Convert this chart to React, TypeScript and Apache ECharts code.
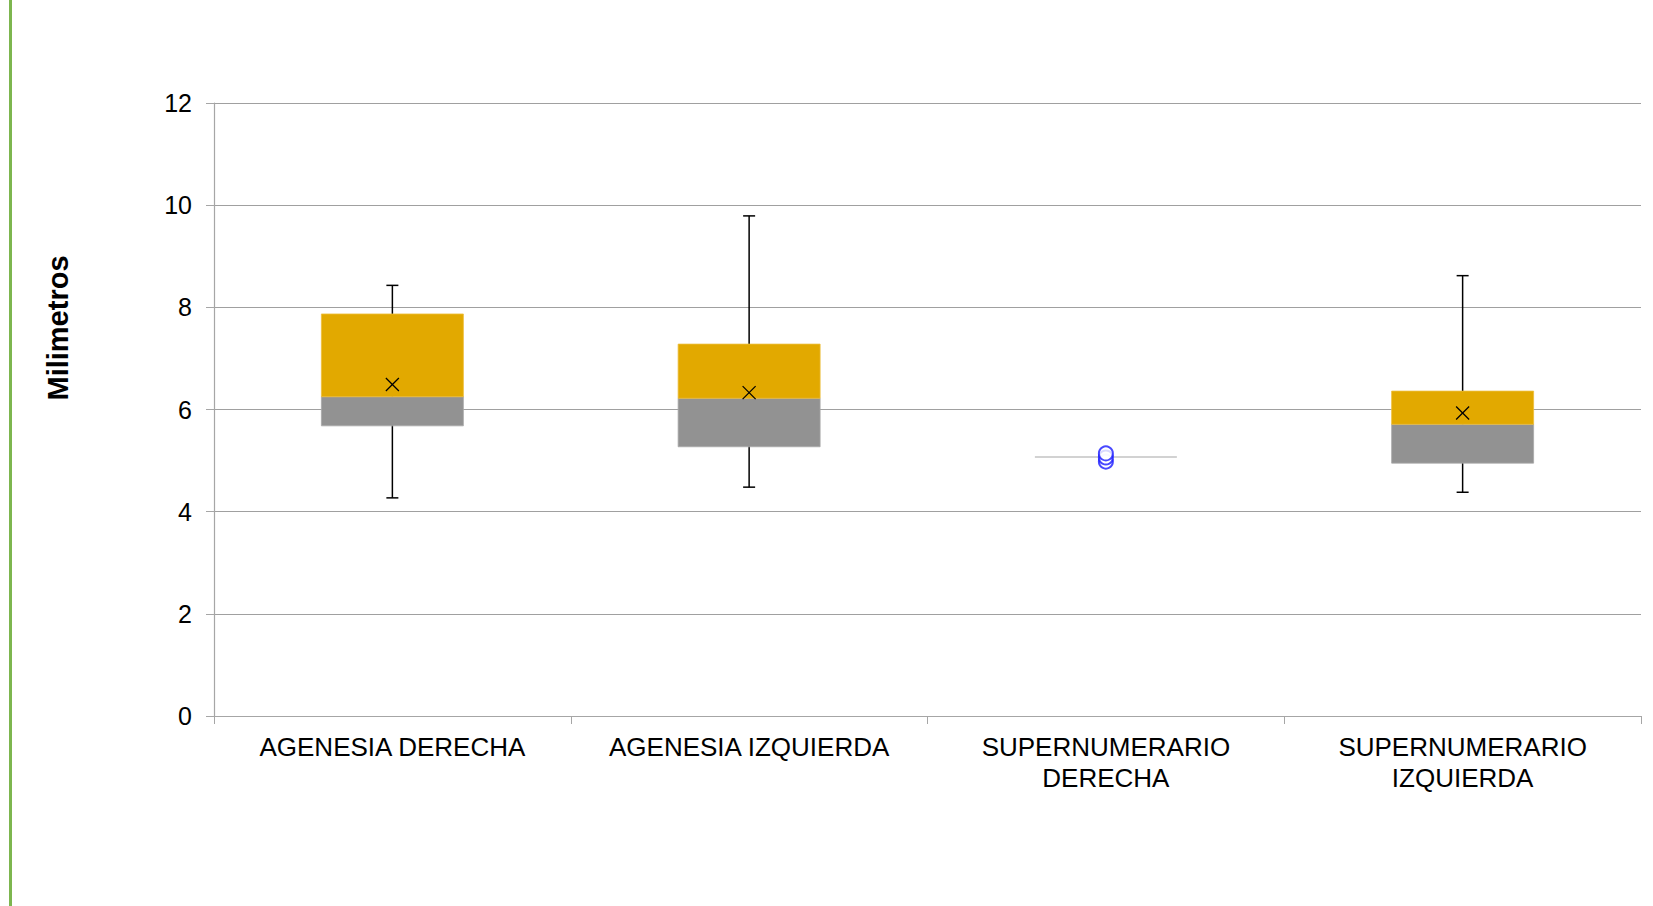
import React, { useEffect, useRef } from "react";
import * as echarts from "echarts";

const categories = [
  "AGENESIA DERECHA",
  "AGENESIA IZQUIERDA",
  "SUPERNUMERARIO DERECHA",
  "SUPERNUMERARIO IZQUIERDA",
];
const whiskerLow = [4.27, 4.48, 5.07, 4.38];
const quartile1 = [5.68, 5.27, 5.07, 4.95];
const medians = [6.25, 6.22, 5.07, 5.71];
const quartile3 = [7.87, 7.28, 5.07, 6.36];
const whiskerHigh = [8.43, 9.79, 5.07, 8.62];
const means: (number | null)[] = [6.49, 6.33, null, 5.93];
const outlierCategory = [2, 2, 2];
const outlierValues = [4.98, 5.06, 5.14];
const yTicks = [0, 2, 4, 6, 8, 10, 12];

const FONT = "'Liberation Sans', Arial, sans-serif";

export default function App() {
  const ref = useRef<HTMLDivElement>(null);

  useEffect(() => {
    if (!ref.current) return;
    const chart = echarts.init(ref.current, null, { renderer: "svg" });

    const boxData = categories.map((_, i) => [
      i,
      whiskerLow[i],
      quartile1[i],
      medians[i],
      quartile3[i],
      whiskerHigh[i],
      means[i] == null ? NaN : means[i],
    ]);

    const renderItem = (params: any, api: any) => {
      const i = api.value(0);
      const low = api.value(1);
      const q1 = api.value(2);
      const med = api.value(3);
      const q3 = api.value(4);
      const high = api.value(5);
      const mean = api.value(6);
      const band = api.size([1, 0])[0];
      const half = (band * 0.398) / 2;
      const pLow = api.coord([i, low]);
      const pQ1 = api.coord([i, q1]);
      const pMed = api.coord([i, med]);
      const pQ3 = api.coord([i, q3]);
      const pHigh = api.coord([i, high]);
      const cx = pLow[0];
      const children: any[] = [];
      const lineStyle = { stroke: "#000", lineWidth: 1.5 };
      if (high > low) {
        children.push({
          type: "line",
          shape: { x1: cx, y1: pLow[1], x2: cx, y2: pHigh[1] },
          style: lineStyle,
        });
        children.push({
          type: "line",
          shape: { x1: cx - 6, y1: pLow[1], x2: cx + 6, y2: pLow[1] },
          style: lineStyle,
        });
        children.push({
          type: "line",
          shape: { x1: cx - 6, y1: pHigh[1], x2: cx + 6, y2: pHigh[1] },
          style: lineStyle,
        });
      }
      if (q3 > q1) {
        children.push({
          type: "rect",
          shape: { x: cx - half, y: pMed[1], width: half * 2, height: pQ1[1] - pMed[1] },
          style: { fill: "#929292", stroke: "#a8a8a8", lineWidth: 0.8 },
        });
        children.push({
          type: "rect",
          shape: { x: cx - half, y: pQ3[1], width: half * 2, height: pMed[1] - pQ3[1] },
          style: { fill: "#E2A900", stroke: "#EDBE3A", lineWidth: 0.8 },
        });
      } else {
        children.push({
          type: "line",
          shape: { x1: cx - half, y1: pMed[1], x2: cx + half, y2: pMed[1] },
          style: { stroke: "#a6a6a6", lineWidth: 1.2 },
        });
      }
      if (!isNaN(mean)) {
        const pm = api.coord([i, mean]);
        const s = 6.5;
        children.push({
          type: "line",
          shape: { x1: pm[0] - s, y1: pm[1] - s, x2: pm[0] + s, y2: pm[1] + s },
          style: { stroke: "#000", lineWidth: 1.3 },
        });
        children.push({
          type: "line",
          shape: { x1: pm[0] - s, y1: pm[1] + s, x2: pm[0] + s, y2: pm[1] - s },
          style: { stroke: "#000", lineWidth: 1.3 },
        });
      }
      return { type: "group", children };
    };

    chart.setOption({
      animation: false,
      backgroundColor: "#fff",
      textStyle: { fontFamily: FONT },
      grid: { left: 214, right: 12, top: 103, bottom: 190, containLabel: false },
      xAxis: {
        type: "category",
        data: categories,
        boundaryGap: true,
        axisLine: { show: true, lineStyle: { color: "#a6a6a6", width: 1.2 } },
        axisTick: { show: true, length: 8, lineStyle: { color: "#a6a6a6" } },
        axisLabel: {
          interval: 0,
          color: "#000",
          fontSize: 26,
          lineHeight: 31,
          margin: 15,
          fontFamily: FONT,
          formatter: (v: string) =>
            v.startsWith("SUPERNUMERARIO") ? v.replace(" ", "\n") : v,
        },
        splitLine: { show: false },
      },
      yAxis: {
        type: "value",
        min: yTicks[0],
        max: yTicks[yTicks.length - 1],
        interval: 2,
        axisLine: { show: true, lineStyle: { color: "#a6a6a6", width: 1.2 } },
        axisTick: { show: true, length: 8, lineStyle: { color: "#a6a6a6" } },
        axisLabel: { color: "#000", fontSize: 25, margin: 22, fontFamily: FONT },
        splitLine: { show: true, lineStyle: { color: "#a0a0a0", width: 1.2 } },
      },
      graphic: [
        {
          type: "rect",
          shape: { x: 9, y: 0, width: 3, height: 906 },
          style: { fill: "#7DB64F" },
        },
        {
          type: "text",
          x: 58,
          y: 328,
          rotation: Math.PI / 2,
          style: {
            text: "Milimetros",
            font: `bold 29px ${FONT}`,
            fill: "#000",
            align: "center",
            verticalAlign: "middle",
          },
        },
      ],
      series: [
        {
          type: "custom",
          renderItem,
          data: boxData,
          encode: { x: 0, y: [1, 2, 3, 4, 5] },
          z: 3,
        },
        {
          type: "scatter",
          data: outlierCategory.map((c, k) => [c, outlierValues[k]]),
          symbol: "emptyCircle",
          symbolSize: 14,
          itemStyle: { color: "#1a1aff", borderWidth: 1.7 },
          z: 4,
        },
      ],
    });

    return () => chart.dispose();
  }, []);

  return (
    <div
      ref={ref}
      style={{ position: "fixed", left: 0, top: 0, width: 1653, height: 906 }}
    />
  );
}
